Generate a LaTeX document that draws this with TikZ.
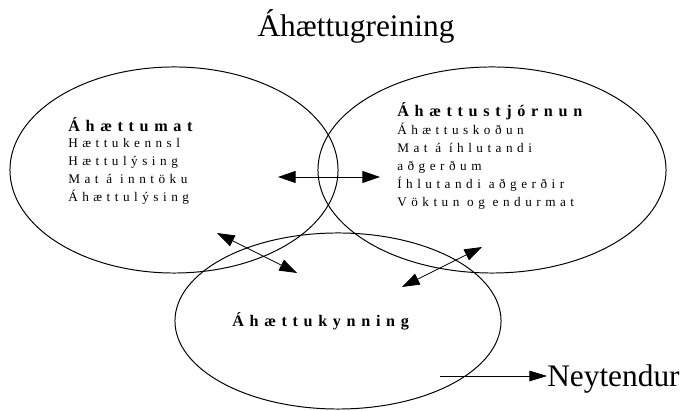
\documentclass[tikz,border=0pt]{standalone}
\usepackage{fontspec}
\setmainfont{Liberation Serif}
\usetikzlibrary{shapes.geometric,arrows.meta}

\tikzset{
  oval/.style={draw, ellipse, line width=0.7pt, inner sep=0pt},
  head/.style={font=\fontsize{11.5}{13}\selectfont\bfseries\addfontfeature{LetterSpace=35}, inner sep=0pt, anchor=base west},
  item/.style={font=\fontsize{9.4}{11}\selectfont\addfontfeature{LetterSpace=34}, inner sep=0pt, anchor=base west},
  big/.style={font=\fontsize{22.3}{24}\selectfont, inner sep=0pt},
  dbl/.style={line width=0.6pt, {Triangle[length=12.5pt,width=8.5pt]}-{Triangle[length=12.5pt,width=8.5pt]}},
  one/.style={line width=0.6pt, -{Triangle[length=12.5pt,width=7.5pt]}}
}

\begin{document}
\begin{tikzpicture}[x=0.025cm,y=-0.025cm]
\useasboundingbox (0,0) rectangle (686,411);
\node[big, anchor=base] (title) at (356,37) {Áhættugreining};
% the three ovals
\node[oval, minimum width=8.2cm, minimum height=5.15cm] (mat) at (174,170) {};
\node[oval, minimum width=8.7cm, minimum height=5.15cm] (stjorn) at (492,170) {};
\node[oval, minimum width=8.15cm, minimum height=4.4cm] (kynning) at (338,321) {};
% texts
\node[head] (mathead) at (68,132) {Áhættumat};
\foreach \t [count=\i] in {Hættukennsl, Hættulýsing, Mat á inntöku, Áhættulýsing}{
  \node[item] (mat\i) at (68,{148+18*(\i-1)}) {\t};
}
\node[head] (stjornhead) at (397,117) {Áhættustjórnun};
\foreach \t [count=\i] in {Áhættuskoðun, Mat á íhlutandi, aðgerðum, Íhlutandi aðgerðir, Vöktun og endurmat}{
  \node[item] (stjorn\i) at (397,{135+17.8*(\i-1)}) {\t};
}
\node[head] (kynninghead) at (232,327) {Áhættukynning};
\node[big, anchor=base west] (neyt) at (547,387) {Neytendur};
% arrows
\coordinate (h1) at (278,177);
\coordinate (h2) at (380,177);
\coordinate (l1) at (217,233);
\coordinate (l2) at (297,273);
\coordinate (r1) at (482,247);
\coordinate (r2) at (402,287);
\coordinate (n1) at (440,376);
\draw[dbl] (h1) -- (h2);
\draw[dbl] (l1) -- (l2);
\draw[dbl] (r1) -- (r2);
\draw[one] (n1) -- (neyt.west |- n1);
\end{tikzpicture}
\end{document}
